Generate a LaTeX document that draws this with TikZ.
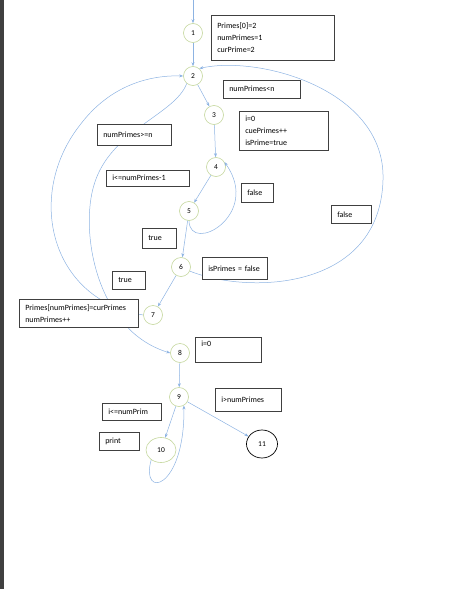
\documentclass[tikz,border=0pt]{standalone}
\usepackage{fontspec}
\setmainfont{Carlito}
\usetikzlibrary{arrows.meta,shapes.geometric}
\definecolor{edgeblue}{HTML}{8DB3E2}
\definecolor{nodegreen}{HTML}{C3D69B}
\definecolor{stripgray}{HTML}{404040}

\begin{document}
\begin{tikzpicture}[x=1pt,y=-1pt,
  st/.style={circle,draw=nodegreen,line width=0.6pt,minimum size=19pt,inner sep=0pt,font=\fontsize{7.5}{9}\selectfont},
  box/.style={draw=black!75,fill=white,line width=0.5pt,anchor=north west,align=left,inner xsep=6pt,inner ysep=2pt,font=\fontsize{8}{12}\selectfont},
  flow/.style={draw=edgeblue,line width=0.5pt,-{Stealth[length=4pt,width=3pt]}}]
  \useasboundingbox (0,0) rectangle (455,589);
  \fill[stripgray] (0,0) rectangle (4,589);
  \coordinate (in) at (193,0);
  \node[st] (n1) at (193,33) {1};
  \node[st] (n2) at (193,76) {2};
  \node[st] (n3) at (214,115) {3};
  \node[st] (n4) at (216,167) {4};
  \node[st] (n5) at (189,211) {5};
  \node[st] (n6) at (181,267) {6};
  \node[st] (n7) at (153,315) {7};
  \node[st] (n8) at (180,353) {8};
  \node[st] (n9) at (179,397) {9};
  \node[st,ellipse,minimum width=30pt,minimum height=25pt] (n10) at (161,450) {10};
  \node[st,ellipse,draw=black,line width=0.7pt,minimum width=31pt,minimum height=28pt] (n11) at (262,444) {11};
  \draw[flow] (in) -- (n1);
  \draw[flow] (n1) -- (n2);
  \draw[flow] (n2) -- (n3);
  \draw[flow] (n3) -- (n4);
  \draw[flow] (n4) -- (n5);
  \draw[flow] (n5.south) .. controls (190,255) and (262,215) .. (n4.30);
  \draw[flow] (n5) -- (n6);
  \draw[flow] (n6) -- (n7);
  \draw[flow] (n6.-25) .. controls (250,295) and (380,290) .. (383,180) .. controls (386,90) and (260,55) .. (n2.50);
  \draw[flow] (n7.west) .. controls (50,300) and (25,195) .. (80,125) .. controls (110,85) and (150,75) .. (n2.west);
  \draw[flow] (n2.230) .. controls (175,115) and (110,130) .. (94,185) .. controls (80,230) and (95,330) .. (n8.west);
  \draw[flow] (n8) -- (n9);
  \draw[flow] (n9) -- (n10);
  \draw[flow] (n9) -- (n11);
  \draw[flow] (n10.225) .. controls (140,500) and (185,490) .. (n9.-60);
  \node[box,text width=111pt,minimum height=45pt] (b1) at (211,15) {Primes[0]=2\\numPrimes=1\\curPrime=2};
  \node[box,text width=65pt,minimum height=18pt] (bcond) at (223,80) {numPrimes<n};
  \node[box,text width=62pt,minimum height=21pt] (bge) at (97,124) {numPrimes>=n};
  \node[box,text width=77pt,minimum height=39pt] (b3) at (239,111) {i=0\\cuePrimes++\\isPrime=true};
  \node[box,text width=71pt,minimum height=16pt] (b4) at (106,170) {i<=numPrimes-1};
  \node[box,text width=20pt,minimum height=19pt] (bf1) at (241,183) {false};
  \node[box,text width=28pt,minimum height=18pt] (bf2) at (331,205) {false};
  \node[box,text width=22pt,minimum height=20pt] (bt1) at (142,228) {true};
  \node[box,text width=53pt,minimum height=22pt] (b6) at (202,257) {isPrimes = false};
  \node[box,text width=21pt,minimum height=18pt] (bt2) at (112,271) {true};
  \node[box,text width=107pt,minimum height=28pt] (b7) at (19,299) {Primes[numPrimes]=curPrimes\\numPrimes++};
  \node[box,text width=54pt,minimum height=25pt,text depth=13pt] (b8) at (195,337) {i=0};
  \node[box,text width=54pt,minimum height=23pt] (b9) at (215,388) {i>numPrimes};
  \node[box,text width=47pt,minimum height=17pt] (b10) at (102,403) {i<=numPrim};
  \node[box,text width=28pt,minimum height=18pt] (bp) at (99,432) {print};
\end{tikzpicture}
\end{document}
